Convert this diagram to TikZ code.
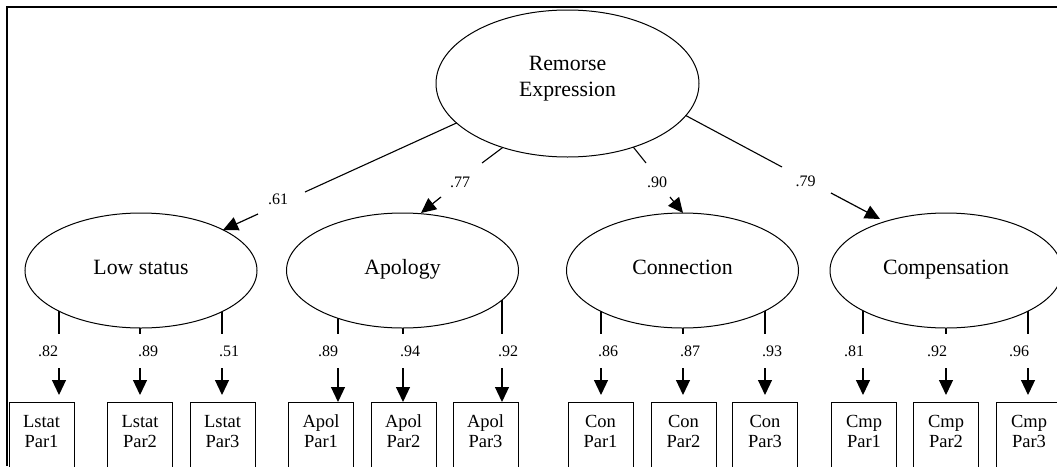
\documentclass[tikz,border=0pt]{standalone}
\usepackage{fontspec}
\setmainfont{Liberation Serif}
\usetikzlibrary{arrows.meta,shapes.geometric,backgrounds}
\begin{document}
\begin{tikzpicture}[x=1pt,y=-1pt,
  latent/.style={ellipse,draw,fill=white,line width=1pt,inner sep=0pt,
    minimum width=232pt,minimum height=115pt,
    font=\fontsize{21.8}{26}\selectfont,align=center,text height=15pt,text depth=7pt},
  obs/.style={rectangle,draw,line width=1pt,anchor=north,minimum width=65pt,
    inner xsep=0pt,inner ysep=12pt,text height=32.5pt,text depth=60pt,
    font=\fontsize{18.5}{20}\selectfont,align=center},
  coef/.style={font=\fontsize{16}{18}\selectfont,inner sep=0pt},
  link/.style={line width=1.1pt},
  arr/.style={line width=1.2pt,-{Triangle[length=15pt,width=14pt]}},
  frame/.style={line width=2pt}]
\useasboundingbox (0,0) rectangle (1057,466);
\clip (0,0) rectangle (1057,466);

% latent variables
\node[latent,minimum width=263pt,minimum height=147pt,text height=41pt,text depth=16pt] (R) at (567.5,83.5) {Remorse\\Expression};
\node[latent] (LS) at (141,270.5) {Low status};
\node[latent] (AP) at (402.5,270.5) {Apology};
\node[latent] (CN) at (682.5,270.5) {Connection};
\node[latent] (CP) at (946,270.5) {Compensation};

% observed indicators
\node[obs] (L1) at (41.5,402) {Lstat\\Par1};
\node[obs] (L2) at (140,402) {Lstat\\Par2};
\node[obs] (L3) at (222.5,402) {Lstat\\Par3};
\node[obs] (A1) at (321,402) {Apol\\Par1};
\node[obs] (A2) at (403.5,402) {Apol\\Par2};
\node[obs] (A3) at (485.5,402) {Apol\\Par3};
\node[obs] (C1) at (600.5,402) {Con\\Par1};
\node[obs] (C2) at (683.5,402) {Con\\Par2};
\node[obs] (C3) at (765,402) {Con\\Par3};
\node[obs] (M1) at (864,402) {Cmp\\Par1};
\node[obs] (M2) at (946,402) {Cmp\\Par2};
\node[obs] (M3) at (1029,402) {Cmp\\Par3};

% structural path labels and break points
\node[coef] (k61) at (278,199) {.61};
\node[coef] (k77) at (460,182) {.77};
\node[coef] (k90) at (657,182) {.90};
\node[coef] (k79) at (805.5,181.5) {.79};
\coordinate (s61) at (496,105);   \coordinate (a61) at (305,192); \coordinate (b61) at (258,214); \coordinate (t61) at (223,230);
\coordinate (s77) at (522,133);   \coordinate (a77) at (482,163); \coordinate (b77) at (441,197); \coordinate (t77) at (421,213);
\coordinate (s90) at (616,125.5); \coordinate (a90) at (646,163); \coordinate (b90) at (670,197); \coordinate (t90) at (683,213);
\coordinate (s79) at (653,98);    \coordinate (a79) at (782,167); \coordinate (b79) at (831,193); \coordinate (t79) at (880,219);

% indicator labels
\node[coef] (q1) at (48,351.5) {.82};
\node[coef] (q2) at (148,351.5) {.89};
\node[coef] (q3) at (229,351.5) {.51};
\node[coef] (q4) at (328,351.5) {.89};
\node[coef] (q5) at (410,351.5) {.94};
\node[coef] (q6) at (508,351.5) {.92};
\node[coef] (q7) at (608,351.5) {.86};
\node[coef] (q8) at (690,351.5) {.87};
\node[coef] (q9) at (772,351.5) {.93};
\node[coef] (q10) at (854,351.5) {.81};
\node[coef] (q11) at (937,351.5) {.92};
\node[coef] (q12) at (1019,351.5) {.96};

% indicator break points
\foreach \n/\x in {1/59,2/140,3/222,4/338,5/403,6/502,7/601,8/683,9/765,10/863,11/946,12/1028}{
  \coordinate (u\n) at (\x,334);
  \coordinate (v\n) at (\x,368);
}

\begin{scope}[on background layer]
  \draw[link] (s61) -- (a61);
  \draw[link] (s77) -- (a77);
  \draw[link] (s90) -- (a90);
  \draw[link] (s79) -- (a79);
  \draw[link] (LS.center -| u1) -- (u1);
  \draw[link] (LS.center -| u2) -- (u2);
  \draw[link] (LS.center -| u3) -- (u3);
  \draw[link] (AP.center -| u4) -- (u4);
  \draw[link] (AP.center -| u5) -- (u5);
  \draw[link] (AP.center -| u6) -- (u6);
  \draw[link] (CN.center -| u7) -- (u7);
  \draw[link] (CN.center -| u8) -- (u8);
  \draw[link] (CN.center -| u9) -- (u9);
  \draw[link] (CP.center -| u10) -- (u10);
  \draw[link] (CP.center -| u11) -- (u11);
  \draw[link] (CP.center -| u12) -- (u12);
\end{scope}

% structural arrows
\draw[arr] (b61) -- (t61);
\draw[arr] (b77) -- (t77);
\draw[arr] (b90) -- (t90);
\draw[arr] (b79) -- (t79);

% indicator arrows
\draw[arr,shorten >=7pt] (v1) -- (v1 |- L1.north);
\draw[arr,shorten >=7pt] (v2) -- (v2 |- L2.north);
\draw[arr,shorten >=7pt] (v3) -- (v3 |- L3.north);
\draw[arr] (v4) -- (v4 |- A1.north);
\draw[arr] (v5) -- (v5 |- A2.north);
\draw[arr] (v6) -- (v6 |- A3.north);
\draw[arr,shorten >=7pt] (v7) -- (v7 |- C1.north);
\draw[arr,shorten >=7pt] (v8) -- (v8 |- C2.north);
\draw[arr,shorten >=7pt] (v9) -- (v9 |- C3.north);
\draw[arr,shorten >=7pt] (v10) -- (v10 |- M1.north);
\draw[arr,shorten >=7pt] (v11) -- (v11 |- M2.north);
\draw[arr,shorten >=7pt] (v12) -- (v12 |- M3.north);

% frame
\draw[frame] (7,466) -- (7,7) -- (1057,7);
\end{tikzpicture}
\end{document}
